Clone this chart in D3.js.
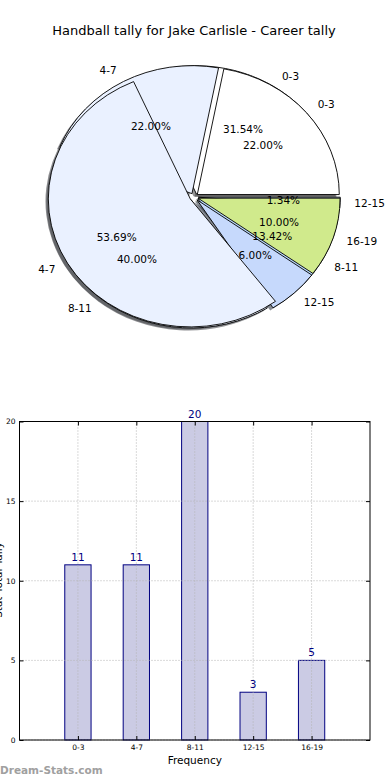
<!DOCTYPE html>
<html>
<head>
<meta charset="utf-8">
<script src="https://cdnjs.cloudflare.com/ajax/libs/d3/7.8.5/d3.min.js"></script>
<style>
body { margin: 0; background: #fff; }
svg { display: block; font-family: "DejaVu Sans", sans-serif; }
</style>
</head>
<body>
<div id="chart"></div>
<script>
// data
var categories = ["0-3", "4-7", "8-11", "12-15", "16-19"];
var tallyValues = [11, 11, 20, 3, 5];
var careerCategories = ["0-3", "4-7", "8-11", "12-15"];
var careerValues = [47, 80, 20, 2];
var yTicks = [0, 5, 10, 15, 20];

var width = 390, height = 780;

var svg = d3.select("#chart")
    .append("svg")
    .attr("width", width)
    .attr("height", height)

svg.append("text")
    .attr("x", 194)
    .attr("y", 35)
    .attr("text-anchor", "middle")
    .attr("font-size", 13)
    .text("Handball tally for Jake Carlisle - Career tally")

// ---------- pie (two pies drawn over each other, like the original) ----------
var cx = 194, cy = 197, rx = 142, ry = 128;
var explode = 0.03;
var tallyColors = ["#ffffff", "#eaf1ff", "#eaf1ff", "#c6d9fc", "#d0ea8c"];
var careerColors = ["#ffffff", "#eaf1ff", "#b9d9fc", "#c6d9fc"];

var pie = d3.pie()
    .sort(null)
    .value(function(d){ return d.value })
    .startAngle(Math.PI / 2)
    .endAngle(Math.PI / 2 - 2 * Math.PI)

var arc = d3.arc().innerRadius(0).outerRadius(100)

function shift(d, k){
    var m = (d.startAngle + d.endAngle) / 2
    return [k * rx * Math.sin(m), -k * ry * Math.cos(m)]
}

var tallyArcs = pie(categories.map(function(c, i){
    return {label: c, value: tallyValues[i], color: tallyColors[i]}
}))
var careerArcs = pie(careerCategories.map(function(c, i){
    return {label: c, value: careerValues[i], color: careerColors[i]}
}))

var pieG = svg.append("g")

function wedgeTransform(d, extra){
    var o = shift(d, explode)
    return "translate(" + (cx + o[0] + extra[0]) + "," + (cy + o[1] + extra[1]) + ") scale(" + (rx / 100) + "," + (ry / 100) + ")"
}

// shadows
pieG.selectAll(".shadow")
    .data(careerArcs.concat(tallyArcs)).enter().append("path")
        .attr("class", "shadow")
        .attr("d", arc)
        .attr("transform", function(d){ return wedgeTransform(d, [-0.02 * rx, 0.02 * ry]) })
        .attr("fill", function(d){
            var c = d3.rgb(d.data.color)
            return d3.rgb(c.r * 0.3, c.g * 0.3, c.b * 0.3)
        })
        .attr("fill-opacity", 0.6)

var biggest = d3.max(careerValues)

function drawWedges(data, cls){
    pieG.selectAll("." + cls)
        .data(data).enter().append("path")
            .attr("class", cls)
            .attr("d", arc)
            .attr("transform", function(d){ return wedgeTransform(d, [0, 0]) })
            .attr("fill", function(d){ return d.data.color })
            .attr("stroke", "#000")
            .attr("stroke-width", 0.9)
            .attr("vector-effect", "non-scaling-stroke")
}

drawWedges(careerArcs.filter(function(d){ return d.value !== biggest }), "career-under")
drawWedges(tallyArcs, "tally")
drawWedges(careerArcs.filter(function(d){ return d.value === biggest }), "career-over")

var pct = d3.format(".2%")

function drawTexts(data, total){
    var g = svg.append("g").attr("font-size", 10.5)
    data.forEach(function(d){
        var o = shift(d, explode)
        var m = (d.startAngle + d.endAngle) / 2
        g.append("text")
            .attr("x", cx + o[0] + 1.1 * rx * Math.sin(m))
            .attr("y", cy + o[1] - 1.1 * ry * Math.cos(m))
            .attr("dy", "0.35em")
            .attr("text-anchor", Math.sin(m) > 0 ? "start" : "end")
            .text(d.data.label)
        g.append("text")
            .attr("x", cx + o[0] + 0.6 * rx * Math.sin(m))
            .attr("y", cy + o[1] - 0.6 * ry * Math.cos(m))
            .attr("dy", "0.35em")
            .attr("text-anchor", "middle")
            .text(pct(d.value / total))
    })
}

drawTexts(tallyArcs, d3.sum(tallyValues))
drawTexts(careerArcs, d3.sum(careerValues))

// ---------- bar chart ----------
var plotLeft = 19.5, plotRight = 370, plotTop = 421.5, plotBottom = 740;

var x = d3.scaleLinear()
    .domain([-1, categories.length])
    .range([plotLeft, plotRight])

var y = d3.scaleLinear()
    .domain([0, 20])
    .range([plotBottom, plotTop])

var barW = x(0.45) - x(0)
var barG = svg.append("g")

barG.selectAll(".bar")
    .data(tallyValues).enter().append("rect")
        .attr("class", "bar")
        .attr("x", function(d, i){ return x(i) - barW / 2 })
        .attr("y", function(d){ return y(d) })
        .attr("width", barW)
        .attr("height", function(d){ return y(0) - y(d) })
        .attr("fill", "#cbcbe4")
        .attr("stroke", "#000080")
        .attr("stroke-width", 1)

// grid (drawn over the bars)
barG.selectAll(".hgrid")
    .data(yTicks).enter().append("line")
        .attr("class", "hgrid")
        .attr("x1", plotLeft).attr("x2", plotRight)
        .attr("y1", function(d){ return y(d) }).attr("y2", function(d){ return y(d) })
        .attr("stroke", "#b4b4b4")
        .attr("stroke-dasharray", "1,2")
barG.selectAll(".vgrid")
    .data(categories).enter().append("line")
        .attr("class", "vgrid")
        .attr("x1", function(d, i){ return x(i) }).attr("x2", function(d, i){ return x(i) })
        .attr("y1", plotTop).attr("y2", plotBottom)
        .attr("stroke", "#b4b4b4")
        .attr("stroke-dasharray", "1,2")

barG.selectAll(".val")
    .data(tallyValues).enter().append("text")
        .attr("class", "val")
        .attr("x", function(d, i){ return x(i) })
        .attr("y", function(d){ return y(d) - 4 })
        .attr("text-anchor", "middle")
        .attr("font-size", 10.5)
        .attr("fill", "#000080")
        .text(function(d){ return d })

// axes, ticks inward like the classic style
var xAxis = d3.axisBottom(x)
    .tickValues(d3.range(categories.length))
    .tickFormat(function(i){ return categories[i] })
    .tickSize(-4)
    .tickPadding(5)
var yAxis = d3.axisLeft(y).tickValues(yTicks).tickSize(-4).tickPadding(4)

var gx = svg.append("g").attr("transform", "translate(0," + plotBottom + ")").call(xAxis)
var gy = svg.append("g").attr("transform", "translate(" + plotLeft + ",0)").call(yAxis)
var gt = svg.append("g").attr("transform", "translate(0," + plotTop + ")")
    .call(d3.axisTop(x).tickValues(d3.range(categories.length)).tickFormat("").tickSize(-4))
var gr = svg.append("g").attr("transform", "translate(" + plotRight + ",0)")
    .call(d3.axisRight(y).tickValues(yTicks).tickFormat("").tickSize(-4))

;[gx, gy, gt, gr].forEach(function(g){
    g.select(".domain").remove()
    g.selectAll("text").attr("font-size", 7.5).attr("font-family", "DejaVu Sans")
})

svg.append("rect")
    .attr("x", plotLeft).attr("y", plotTop)
    .attr("width", plotRight - plotLeft).attr("height", plotBottom - plotTop)
    .attr("fill", "none")
    .attr("stroke", "#000")
    .attr("stroke-width", 1)

svg.append("text")
    .attr("x", (plotLeft + plotRight) / 2)
    .attr("y", 764)
    .attr("text-anchor", "middle")
    .attr("font-size", 10.5)
    .text("Frequency")

// the y label sits mostly off the left edge in the original
svg.append("text")
    .attr("transform", "translate(2,580) rotate(-90)")
    .attr("text-anchor", "middle")
    .attr("font-size", 10.5)
    .text("Stat Total Tally")

svg.append("text")
    .attr("x", 0)
    .attr("y", 774)
    .attr("font-size", 10.5)
    .attr("font-weight", "bold")
    .attr("fill", "#a0a0a0")
    .text("Dream-Stats.com")
</script>
</body>
</html>
